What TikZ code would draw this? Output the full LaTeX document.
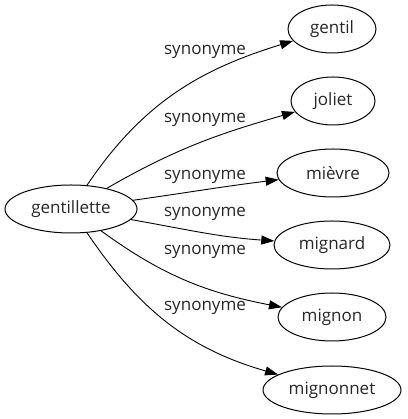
\documentclass[tikz,border=0pt]{standalone}
\usepackage{fontspec}
\setmainfont{Open Sans}
\usetikzlibrary{shapes.geometric, arrows.meta}

\tikzset{
  word/.style={draw, ellipse, line width=1pt, minimum height=48pt, inner xsep=-12pt, inner ysep=0pt},
  syn/.style={->, >={Triangle[length=13pt, width=9pt]}, line width=0.9pt},
  rel/.style={inner sep=0pt}
}

\begin{document}
\begin{tikzpicture}[x=1pt, y=1pt, every node/.style={font=\fontsize{17}{20}\selectfont, text=black!85}]
    \useasboundingbox (0,0) rectangle (407,419);
    % the word and its synonyms
    \node[word, minimum width=132pt] (gentillette) at (71,210) {gentillette};
    \node[word, minimum width=88pt]  (gentil)    at (332,390) {gentil};
    \node[word, minimum width=84pt]  (joliet)    at (333,318) {joliet};
    \node[word, minimum width=112pt] (mievre)    at (333,246) {mièvre};
    \node[word, minimum width=116pt] (mignard)   at (332,174) {mignard};
    \node[word, minimum width=108pt] (mignon)    at (332,102) {mignon};
    \node[word, minimum width=138pt] (mignonnet) at (332,29)  {mignonnet};
    % edge labels
    \node[rel] (l1) at (205,367) {synonyme};
    \node[rel] (l2) at (205,299) {synonyme};
    \node[rel] (l3) at (205,242) {synonyme};
    \node[rel] (l4) at (205,205) {synonyme};
    \node[rel] (l5) at (205,167) {synonyme};
    \node[rel] (l6) at (205,111) {synonyme};
    % edges
    \draw[syn] (gentillette) to[out=56, in=197] (gentil);
    \draw[syn] (gentillette) to[out=30, in=196] (joliet);
    \draw[syn] (gentillette) to[out=8, in=187] (mievre);
    \draw[syn] (gentillette) to[out=-10, in=176] (mignard);
    \draw[syn] (gentillette) to[out=-36, in=169] (mignon);
    \draw[syn] (gentillette) to[out=-56, in=164] (mignonnet);
\end{tikzpicture}
\end{document}
